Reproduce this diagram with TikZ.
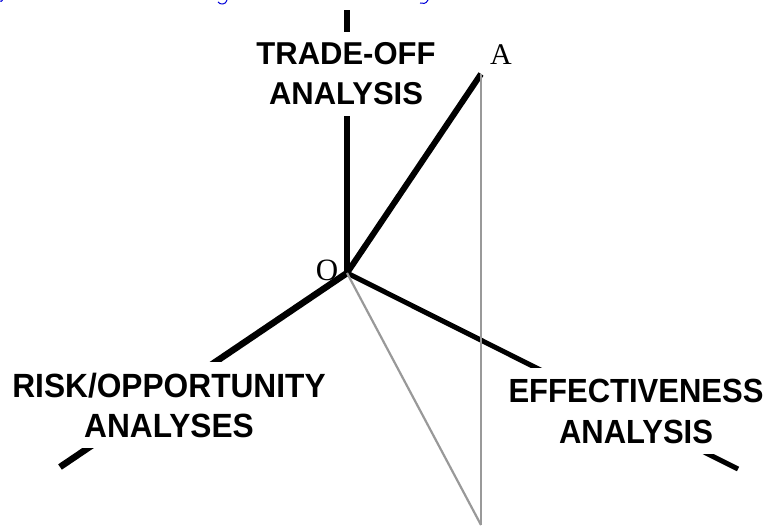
\documentclass[tikz,border=0pt]{standalone}
\usepackage{fontspec}
\usepackage{graphicx}
\setmainfont{Liberation Serif}
\newfontfamily\labfont{Liberation Sans}
\newcommand{\tallline}[3]{\scalebox{#1}[#2]{#3}}
\tikzset{
  axis/.style={line width=6pt, line cap=butt},
  guide/.style={line width=2.2pt, draw=black!40},
  axlabel/.style={fill=white, align=center, inner xsep=4pt, inner ysep=11pt,
     font=\labfont\bfseries\fontsize{31}{40}\selectfont},
  pointlabel/.style={inner sep=0pt, font=\fontsize{30}{36}\selectfont},
  frag/.style={draw=blue!85!black, line width=1pt}
}
\begin{document}
\begin{tikzpicture}[x=1pt,y=1pt]
\useasboundingbox (0,0) rectangle (767,525);
% coordinates
\coordinate (O) at (347,252);
\coordinate (T) at (347,515);
\coordinate (A) at (481,451);
\coordinate (B) at (481,0);
\coordinate (L) at (60,58);
\coordinate (R) at (738,56);
% axes
\draw[axis] (O) -- (T);
\draw[axis, line width=6.5pt] (O) -- (L);
\draw[axis, line width=5pt] (O) -- (R);
\draw[axis] (O) -- (A);
% guides (drawn over the axes)
\draw[guide] (A) -- (B);
\draw[guide] (O) -- (B);
% labels
\node[axlabel] (trade) at (346,451) {\tallline{1}{1.02}{TRADE-OFF}\\\tallline{1}{1.02}{ANALYSIS}};
\node[axlabel, font=\labfont\bfseries\fontsize{32}{40}\selectfont] (risk) at (169,120)
   {\tallline{0.99}{1.05}{RISK/OPPORTUNITY}\\\tallline{0.99}{1.05}{ANALYSES}};
\node[axlabel, font=\labfont\bfseries\fontsize{31}{41}\selectfont] (eff) at (636,114)
   {\tallline{1}{1.08}{EFFECTIVENESS}\\\tallline{1}{1.08}{ANALYSIS}};
\node[pointlabel, anchor=base] (alab) at (501,460) {A};
\node[pointlabel, anchor=base, font=\fontsize{31}{36}\selectfont] (olab) at (327,244) {O};
% clipped fragments of a blue line of text above the picture
\draw[frag] (0,524) .. controls (1.5,523.5) .. (2.5,525);
\draw[frag] (227,525) .. controls (226,520) and (220,520) .. (218,523);
\draw[frag] (428,525) .. controls (426,521) and (423,521) .. (420,522);
\end{tikzpicture}
\end{document}
